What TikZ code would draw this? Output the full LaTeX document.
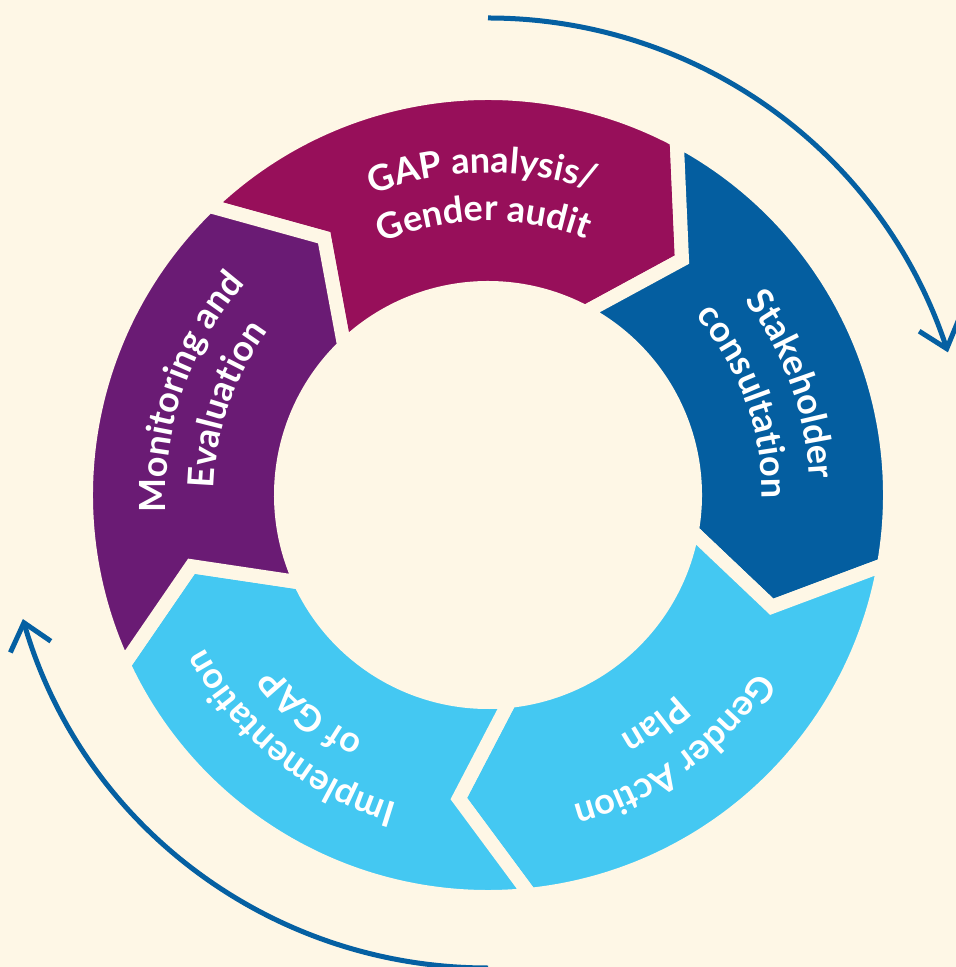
\documentclass[tikz,border=0pt]{standalone}
\usepackage{fontspec}
\usetikzlibrary{arrows.meta,bending,decorations.text}
\IfFontExistsTF{Lato Bold}
  {\newfontfamily\ringfont{Lato Bold}}
  {\newfontfamily\ringfont{Lato}[UprightFont={* Semibold}]}
\newcommand\ringtext{\ringfont\fontsize{18}{22}\selectfont\color{white}}

\definecolor{paper}{HTML}{FEF7E6}
\definecolor{gapred}{HTML}{970F5A}
\definecolor{stakeblue}{HTML}{045EA0}
\definecolor{planblue}{HTML}{44C8F2}
\definecolor{monpurple}{HTML}{6A1B74}
\definecolor{arcblue}{HTML}{0560A2}

\tikzset{
  Segment/.style={fill=#1, draw=paper, line width=7pt},
  Caption/.style={decorate, decoration={text along path, text align=center, text={|\ringtext|#1}}},
  Cycle/.style={draw=arcblue, line width=2.5pt, -{Straight Barb[length=12.5pt, width=21pt]}}
}

\begin{document}
\begin{tikzpicture}[x=0.5pt, y=0.5pt]
    \fill[paper] (-488,-472) rectangle (468,495);
    \clip (-488,-472) rectangle (468,495);
    % ring parts, clockwise: from / to / colour
    \foreach \from/\to/\col in {134/62/gapred, 62/-10/stakeblue, -10/-84/planblue, -84/-155/planblue, 205/134/monpurple}
      \path[Segment=\col] (\from:402) arc[start angle=\from, end angle=\to, radius=402]
        -- ({\to-11.5}:305) -- (\to:207) arc[start angle=\to, end angle=\from, radius=207]
        -- ({\from-11.5}:305) -- cycle;
    % captions
    \path[Caption={GAP analysis/}]  (151:322) arc[start angle=151, end angle=31, radius=322];
    \path[Caption={Gender audit}]   (151:274) arc[start angle=151, end angle=31, radius=274];
    \path[Caption={Stakeholder}]    (80:322) arc[start angle=80, end angle=-40, radius=322];
    \path[Caption={consultation}]   (80:274) arc[start angle=80, end angle=-40, radius=274];
    \path[Caption={Gender Action}]  (6:322) arc[start angle=6, end angle=-114, radius=322];
    \path[Caption={Plan}]           (6:274) arc[start angle=6, end angle=-114, radius=274];
    \path[Caption={Implementation}] (-69:322) arc[start angle=-69, end angle=-189, radius=322];
    \path[Caption={of GAP}]         (-69:274) arc[start angle=-69, end angle=-189, radius=274];
    \path[Caption={Monitoring and}] (221:322) arc[start angle=221, end angle=101, radius=322];
    \path[Caption={Evaluation}]     (221:274) arc[start angle=221, end angle=101, radius=274];
    % outer cycle arrows
    \coordinate (topstart) at (90:482 and 477);
    \coordinate (bottomstart) at (-90:482 and 473);
    \draw[Cycle] (topstart) arc[start angle=90, end angle=17.4, x radius=482, y radius=477];
    \draw[Cycle] (bottomstart) arc[start angle=-90, end angle=-164.8, x radius=482, y radius=473];
\end{tikzpicture}
\end{document}
